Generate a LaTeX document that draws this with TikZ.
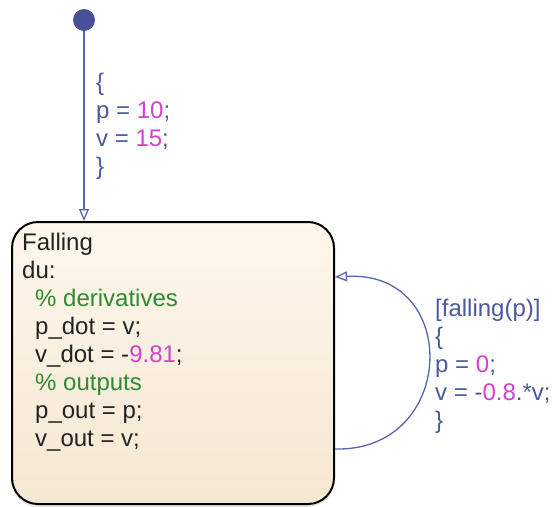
\documentclass[tikz,border=0pt]{standalone}
\usepackage{fontspec}
\usetikzlibrary{arrows.meta,shadows}
\newfontfamily\codefont{Liberation Sans}
\definecolor{tblue}{HTML}{4B5A9E}
\definecolor{tline}{HTML}{5A63AD}
\definecolor{initblue}{HTML}{4A4F9A}
\definecolor{numpink}{HTML}{D43FD0}
\definecolor{cmtgreen}{HTML}{2E8B2E}
\definecolor{statetext}{HTML}{222222}
\definecolor{stop}{HTML}{FDF7EC}
\definecolor{sbottom}{HTML}{F5E7D2}
\newcommand{\num}[1]{\textcolor{numpink}{#1}}
\newcommand{\cmt}[1]{\textcolor{cmtgreen}{#1}}
\newcommand{\ind}{\hspace*{13pt}}
\newcommand{\fl}{\rule{0pt}{20pt}}
\begin{document}
\begin{tikzpicture}[x=1pt, y=-1pt,
    code/.style={font=\codefont\fontsize{24}{28}\selectfont, align=left, anchor=north west, inner sep=0pt},
    trans/.style={draw=tline, line width=1.3pt, -{Triangle[open, length=12pt, width=10pt]}},
    state/.style={draw=black, line width=2pt, rounded corners=26pt, top color=stop, bottom color=sbottom,
        minimum width=322pt, minimum height=282pt, drop shadow={shadow xshift=0pt, shadow yshift=-3pt, opacity=0.2}}]
    \useasboundingbox (0,0) rectangle (553,506);

    % 状态
    \node[state] (falling) at (173,363) {};
    \node[code, text=statetext] (fallinglab) at (22,230) {\fl Falling\\du:\\\ind\cmt{\% derivatives}\\\ind p\_dot = v;\\\ind v\_dot = -\num{9.81};\\\ind\cmt{\% outputs}\\\ind p\_out = p;\\\ind v\_out = v;};

    % 默认转移
    \node[circle, fill=initblue, minimum size=22pt, inner sep=0pt] (init) at (84,20) {};
    \draw[trans] (init) -- (init |- falling.north);
    \node[code, text=tblue] (initlab) at (96,70) {\fl\{\\p = \num{10};\\v = \num{15};\\\}};

    % 自环
    \draw[trans] ([yshift=-86pt]falling.east) .. controls +(122pt,-3pt) and +(127pt,7pt) .. ([yshift=86pt]falling.east);
    \node[code, text=tblue] (looplab) at (435,296) {\fl[falling(p)]\\\{\\p = \num{0};\\v = -\num{0.8}.*v;\\\}};
\end{tikzpicture}
\end{document}
